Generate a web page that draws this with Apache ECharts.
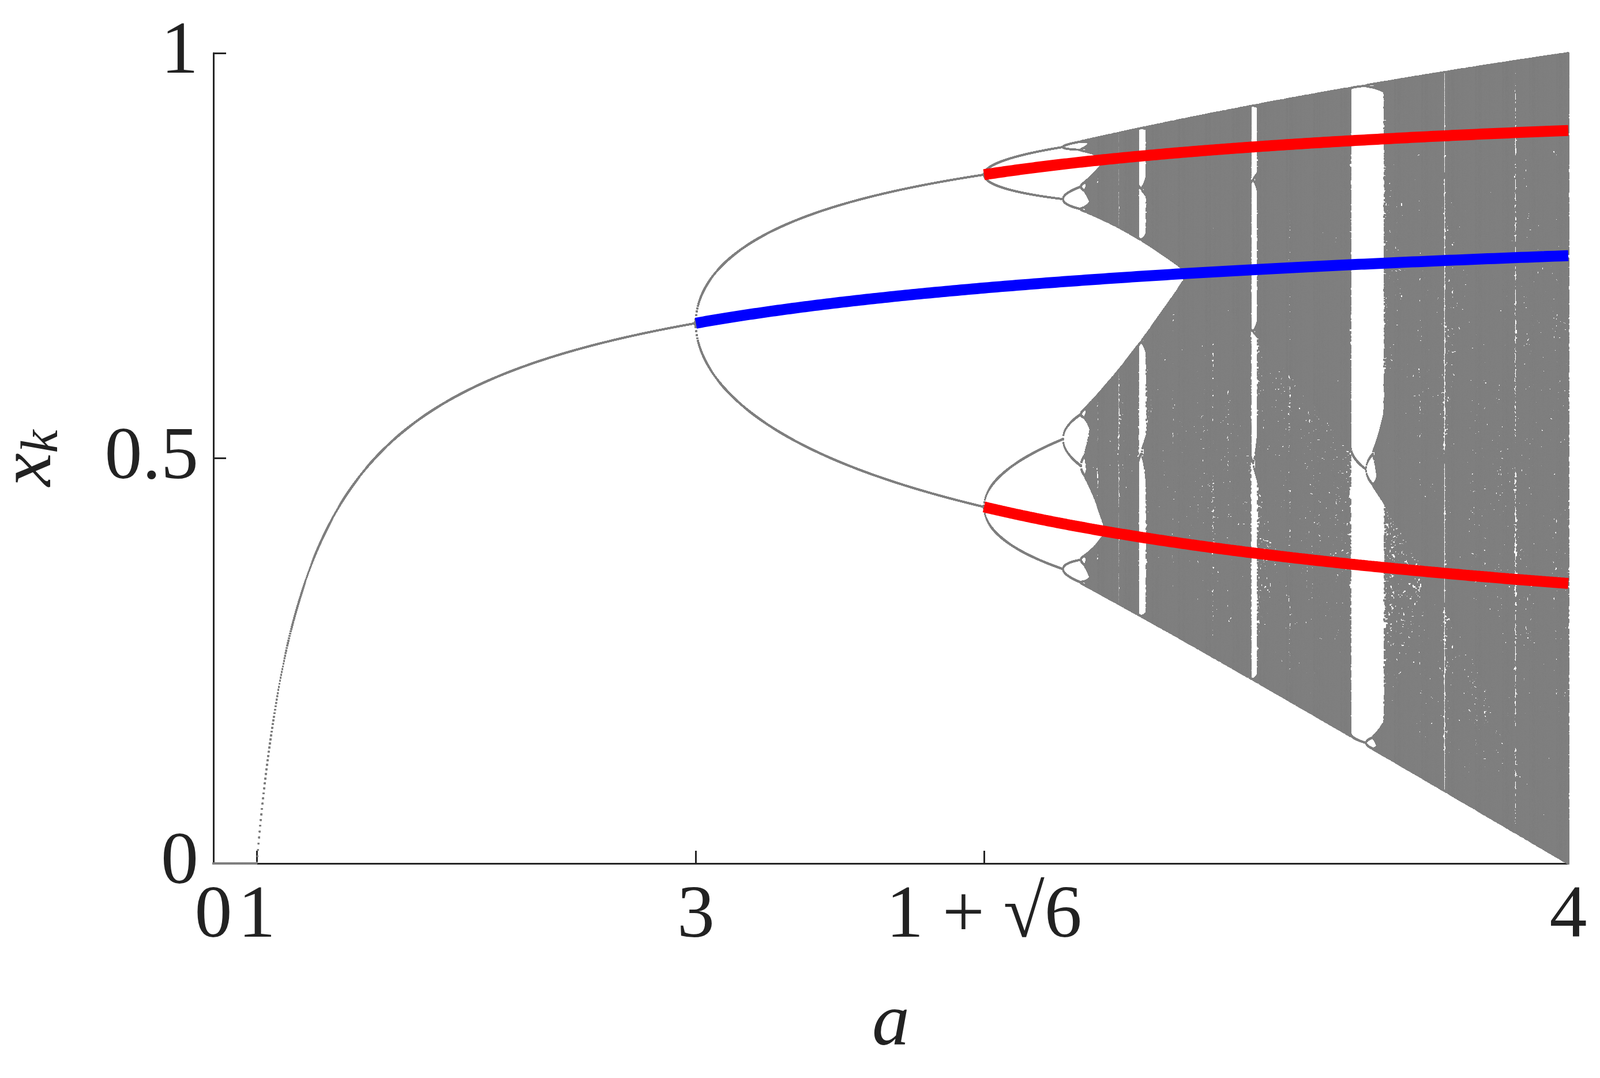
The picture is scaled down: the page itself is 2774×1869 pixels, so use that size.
<!DOCTYPE html>
<html><head><meta charset="utf-8">
<script src="https://cdn.jsdelivr.net/npm/echarts@6/dist/echarts.min.js"></script>
<style>html,body{margin:0;padding:0;background:#fff}#c{width:2774px;height:1869px}</style>
</head><body><div id="c"></div>
<script>
// Parameters (x axis drawn on an exp(a) scale)
const aMin = 0, aMax = 4;
const xTickA = [0, 1, 3, 1 + Math.sqrt(6), 4];
const xTickLabels = ['0', '1', '3', '1 + √6', '4'];
const yTicks = [0, 0.5, 1];
const yTickLabels = ['0', '0.5', '1'];
const nColumns = 2400, nTransient = 1500, nKeep = 900;
const stableStart = 3, unstable2Start = 1 + Math.sqrt(6);

// bifurcation points of x_{k+1} = a x_k (1 - x_k)
const uMin = Math.exp(aMin), uMax = Math.exp(aMax);
const cloud = [];
for (let i = 0; i < nColumns; i++) {
  const u = uMin + (uMax - uMin) * i / (nColumns - 1);
  const a = Math.log(u);
  let x = 0.3;
  for (let k = 0; k < nTransient; k++) x = a * x * (1 - x);
  const seen = new Set();
  for (let k = 0; k < nKeep; k++) {
    x = a * x * (1 - x);
    const key = Math.round(x * 1400);
    if (!seen.has(key)) { seen.add(key); cloud.push([u, x]); }
  }
}
const blue = [], redUp = [], redLo = [];
for (let i = 0; i <= 200; i++) {
  const a = stableStart + (aMax - stableStart) * i / 200;
  blue.push([Math.exp(a), 1 - 1 / a]);
  const b = unstable2Start + (aMax - unstable2Start) * i / 200;
  const d = Math.sqrt(Math.max(0, (b + 1) * (b - 3)));
  redUp.push([Math.exp(b), (b + 1 + d) / (2 * b)]);
  redLo.push([Math.exp(b), (b + 1 - d) / (2 * b)]);
}
const xTickU = xTickA.map(a => Math.exp(a));
const serif = 'Liberation Serif, Times New Roman, serif';
const chart = echarts.init(document.getElementById('c'));
chart.setOption({
  animation: false,
  grid: {left: 370, right: 55, top: 92, bottom: 372, containLabel: false, outerBoundsMode: 'none'},
  xAxis: {
    type: 'value', min: uMin, max: uMax,
    name: 'a', nameLocation: 'middle', nameGap: 215,
    nameTextStyle: {fontFamily: serif, fontStyle: 'italic', fontSize: 130, color: '#222'},
    axisLine: {lineStyle: {color: '#262626', width: 3}},
    axisTick: {inside: true, length: 22, customValues: xTickU, lineStyle: {color: '#262626', width: 3}},
    axisLabel: {customValues: xTickU, margin: 28, fontFamily: serif, fontSize: 130, color: '#222',
      formatter: v => { let best = 0; xTickU.forEach((t, i) => { if (Math.abs(t - v) < Math.abs(xTickU[best] - v)) best = i; }); return xTickLabels[best]; }},
    splitLine: {show: false}
  },
  yAxis: {
    type: 'value', min: 0, max: 1,
    name: '{i|x}{s|k}', nameLocation: 'middle', nameGap: 250, nameRotate: 90,
    nameTextStyle: {rich: {
      i: {fontFamily: serif, fontStyle: 'italic', fontSize: 130, color: '#222'},
      s: {fontFamily: serif, fontStyle: 'italic', fontSize: 90, color: '#222', padding: [45, 0, 0, 0]}}},
    axisLine: {lineStyle: {color: '#262626', width: 3}},
    axisTick: {inside: true, length: 22, customValues: yTicks, lineStyle: {color: '#262626', width: 3}},
    axisLabel: {customValues: yTicks, margin: 26, fontFamily: serif, fontSize: 130, color: '#222',
      formatter: v => yTickLabels[yTicks.indexOf(v)] ?? ''},
    splitLine: {show: false}
  },
  series: [
    {type: 'scatter', data: cloud, symbolSize: 2.8, large: true, largeThreshold: 1000,
      itemStyle: {color: '#808080'}, silent: true, z: 1},
    {type: 'line', data: blue, showSymbol: false, lineStyle: {color: '#0000ff', width: 19}, z: 3, silent: true},
    {type: 'line', data: redUp, showSymbol: false, lineStyle: {color: '#ff0000', width: 19}, z: 3, silent: true},
    {type: 'line', data: redLo, showSymbol: false, lineStyle: {color: '#ff0000', width: 19}, z: 3, silent: true}
  ]
});
</script></body></html>
